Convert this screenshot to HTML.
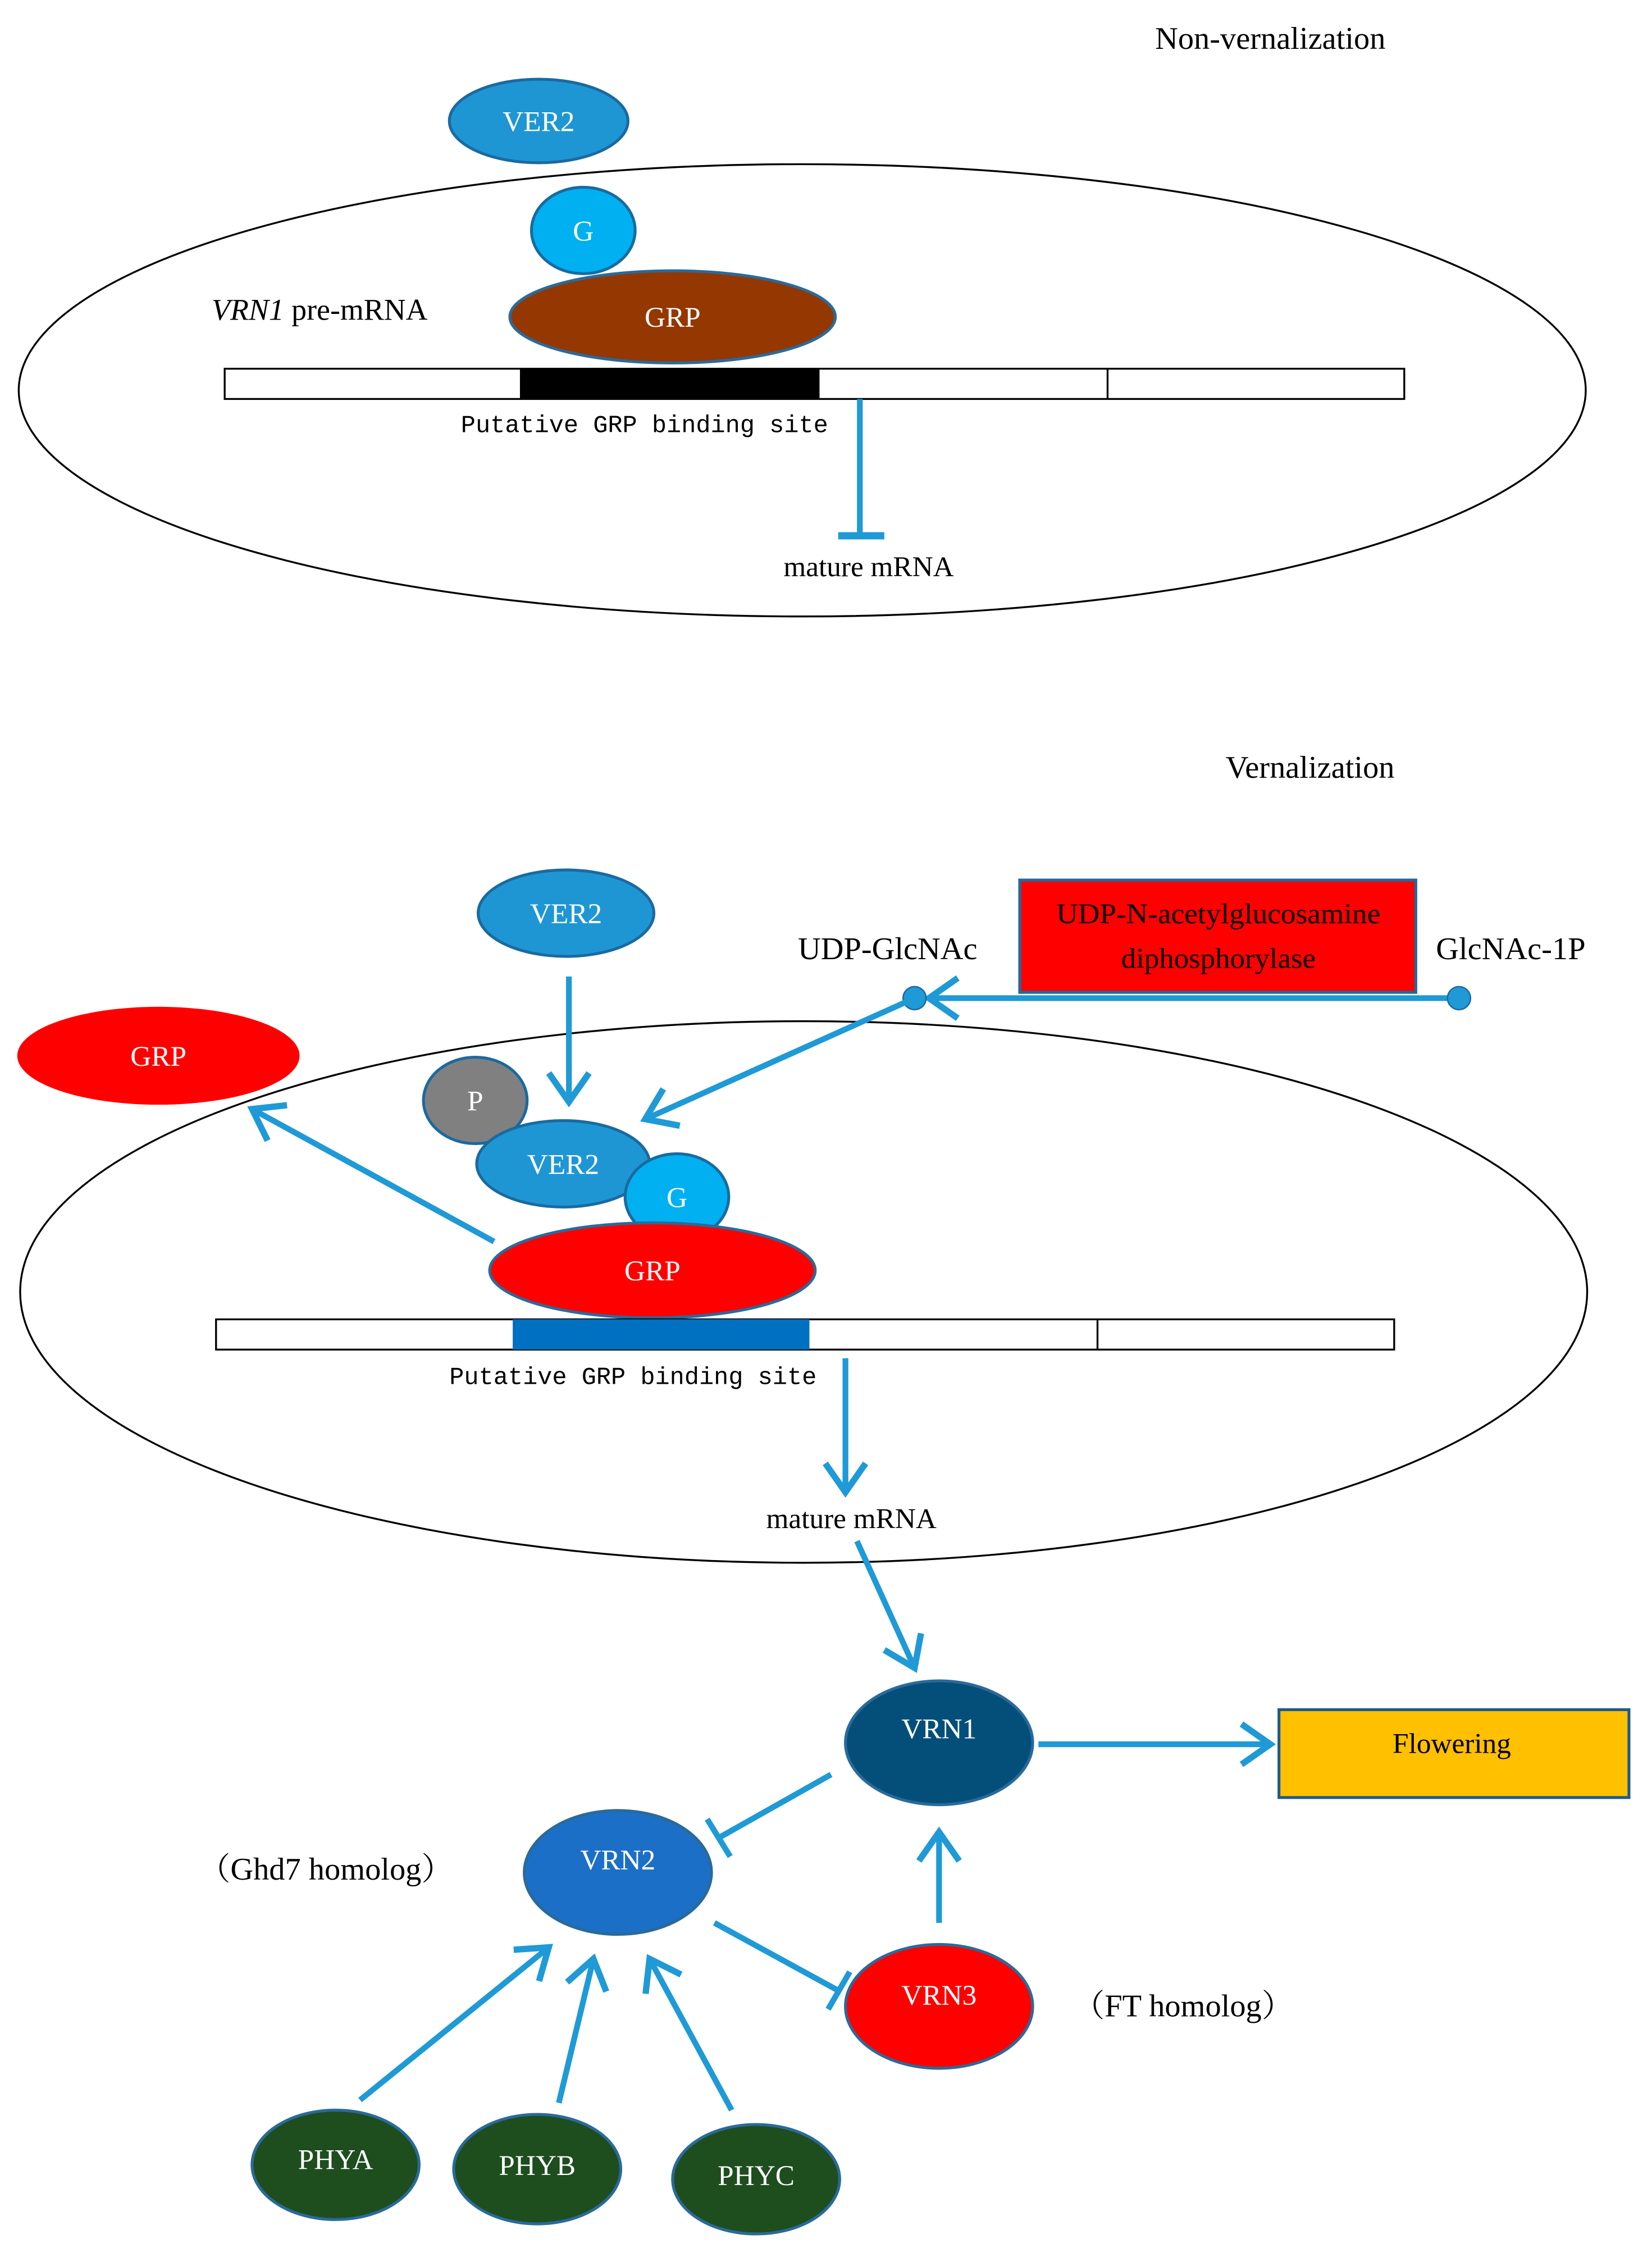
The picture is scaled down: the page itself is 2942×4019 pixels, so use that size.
<!DOCTYPE html>
<html><head><meta charset="utf-8"><style>html,body{margin:0;padding:0;background:#fff}svg{display:block}</style></head><body>
<svg width="2942" height="4019" viewBox="0 0 1147 1567" preserveAspectRatio="none" xmlns="http://www.w3.org/2000/svg" font-family="'Liberation Serif', serif">
<defs>
<marker id="ar" markerWidth="8" markerHeight="8" refX="6" refY="4" orient="auto" markerUnits="strokeWidth">
<polyline points="1,0.5 6,4 1,7.5" fill="none" stroke="#1f9ad6" stroke-width="1.1"/></marker>
</defs>
<rect width="1147" height="1567" fill="#fff"/>
<text x="802" y="34" font-size="22">Non-vernalization</text>
<ellipse cx="557" cy="271" rx="544" ry="157" fill="none" stroke="#000" stroke-width="1.3"/>
<ellipse cx="374" cy="84" rx="62" ry="29" fill="#1f96d4" stroke="#1a6aa0" stroke-width="2"/>
<text x="374" y="91" font-size="20" fill="#fff" text-anchor="middle">VER2</text>
<ellipse cx="405" cy="160" rx="36" ry="30" fill="#00b0f0" stroke="#1a6aa0" stroke-width="2"/>
<text x="405" y="167" font-size="20" fill="#fff" text-anchor="middle">G</text>
<ellipse cx="467" cy="220" rx="113" ry="32" fill="#943700" stroke="#2a6a9a" stroke-width="2"/>
<text x="467" y="227" font-size="20" fill="#fff" text-anchor="middle">GRP</text>
<text x="147" y="222" font-size="21"><tspan font-style="italic">VRN1</tspan> pre-mRNA</text>
<rect x="156" y="256" width="819" height="21" fill="#fff" stroke="#000" stroke-width="1.3"/>
<rect x="361" y="256" width="208" height="21" fill="#000"/>
<line x1="769" y1="256" x2="769" y2="277" stroke="#000" stroke-width="1.3"/>
<text x="320" y="300" font-size="17" font-family="'Liberation Mono', monospace">Putative GRP binding site</text>
<line x1="597" y1="277" x2="597" y2="372" stroke="#1f9ad6" stroke-width="4"/>
<line x1="582" y1="372" x2="614" y2="372" stroke="#1f9ad6" stroke-width="5"/>
<text x="544" y="400" font-size="20">mature mRNA</text>

<text x="851" y="540" font-size="22">Vernalization</text>
<ellipse cx="558" cy="897" rx="544" ry="188" fill="none" stroke="#000" stroke-width="1.3"/>
<ellipse cx="393" cy="634" rx="61" ry="30" fill="#1f96d4" stroke="#1a6aa0" stroke-width="2"/>
<text x="393" y="641" font-size="20" fill="#fff" text-anchor="middle">VER2</text>
<line x1="395" y1="678" x2="395" y2="765" stroke="#1f9ad6" stroke-width="4" marker-end="url(#ar)"/>
<rect x="708" y="611" width="275" height="78" fill="#ff0000" stroke="#1e6aa0" stroke-width="2"/>
<text x="846" y="641" font-size="20" text-anchor="middle" textLength="225" lengthAdjust="spacingAndGlyphs">UDP-N-acetylglucosamine</text>
<text x="846" y="672" font-size="20" text-anchor="middle" textLength="135" lengthAdjust="spacingAndGlyphs">diphosphorylase</text>
<text x="554" y="666" font-size="22">UDP-GlcNAc</text>
<text x="997" y="666" font-size="22">GlcNAc-1P</text>
<line x1="1013" y1="693" x2="645" y2="693" stroke="#1f9ad6" stroke-width="4" marker-end="url(#ar)"/>
<circle cx="1013" cy="693" r="8" fill="#1f9ad6" stroke="#1a6aa0"/>
<circle cx="635" cy="693" r="8" fill="#1f9ad6" stroke="#1a6aa0"/>
<line x1="635" y1="693" x2="448" y2="777" stroke="#1f9ad6" stroke-width="4" marker-end="url(#ar)"/>
<ellipse cx="110" cy="733" rx="98" ry="34" fill="#ff0000"/>
<text x="110" y="740" font-size="20" fill="#fff" text-anchor="middle">GRP</text>
<line x1="343" y1="862" x2="175" y2="770" stroke="#1f9ad6" stroke-width="4" marker-end="url(#ar)"/>
<ellipse cx="330" cy="764" rx="36" ry="30" fill="#808080" stroke="#1a6aa0" stroke-width="2"/>
<text x="330" y="771" font-size="20" fill="#fff" text-anchor="middle">P</text>
<ellipse cx="391" cy="808" rx="60" ry="30" fill="#1f96d4" stroke="#1a6aa0" stroke-width="2"/>
<text x="391" y="815" font-size="20" fill="#fff" text-anchor="middle">VER2</text>
<ellipse cx="470" cy="831" rx="36" ry="30" fill="#00b0f0" stroke="#1a6aa0" stroke-width="2"/>
<text x="470" y="838" font-size="20" fill="#fff" text-anchor="middle">G</text>
<ellipse cx="453" cy="882" rx="113" ry="33" fill="#ff0000" stroke="#2a6a9a" stroke-width="2"/>
<text x="453" y="889" font-size="20" fill="#fff" text-anchor="middle">GRP</text>
<rect x="150" y="916" width="818" height="21" fill="#fff" stroke="#000" stroke-width="1.3"/>
<rect x="356" y="916" width="206" height="21" fill="#0070c0"/>
<line x1="762" y1="916" x2="762" y2="937" stroke="#000" stroke-width="1.3"/>
<text x="312" y="961" font-size="17" font-family="'Liberation Mono', monospace">Putative GRP binding site</text>
<line x1="587" y1="943" x2="587" y2="1036" stroke="#1f9ad6" stroke-width="4" marker-end="url(#ar)"/>
<text x="532" y="1061" font-size="20">mature mRNA</text>
<line x1="595" y1="1070" x2="635" y2="1158" stroke="#1f9ad6" stroke-width="4" marker-end="url(#ar)"/>

<ellipse cx="652" cy="1210" rx="65" ry="43" fill="#034f7a" stroke="#2a6a9a" stroke-width="2"/>
<text x="652" y="1207" font-size="20" fill="#fff" text-anchor="middle">VRN1</text>
<line x1="721" y1="1211" x2="882" y2="1211" stroke="#1f9ad6" stroke-width="4" marker-end="url(#ar)"/>
<rect x="888" y="1187" width="243" height="61" fill="#ffc000" stroke="#1e5a8a" stroke-width="2"/>
<text x="1008" y="1217" font-size="20" text-anchor="middle">Flowering</text>
<line x1="577" y1="1232" x2="499" y2="1276" stroke="#1f9ad6" stroke-width="4"/>
<line x1="491" y1="1263" x2="507" y2="1289" stroke="#1f9ad6" stroke-width="4"/>
<ellipse cx="429" cy="1300" rx="65" ry="43" fill="#1c6fc6" stroke="#2a6a9a" stroke-width="2"/>
<text x="429" y="1298" font-size="20" fill="#fff" text-anchor="middle">VRN2</text>
<text x="138" y="1305" font-size="22" font-family="'Liberation Serif','Noto Serif CJK SC',serif">（Ghd7 homolog）</text>
<line x1="496" y1="1335" x2="582" y2="1382" stroke="#1f9ad6" stroke-width="4"/>
<line x1="590" y1="1369" x2="575" y2="1395" stroke="#1f9ad6" stroke-width="4"/>
<ellipse cx="652" cy="1393" rx="65" ry="43" fill="#ff0000" stroke="#2a6a9a" stroke-width="2"/>
<text x="652" y="1392" font-size="20" fill="#fff" text-anchor="middle">VRN3</text>
<line x1="652" y1="1335" x2="652" y2="1272" stroke="#1f9ad6" stroke-width="4" marker-end="url(#ar)"/>
<text x="745" y="1400" font-size="22" font-family="'Liberation Serif','Noto Serif CJK SC',serif">（FT homolog）</text>

<ellipse cx="233" cy="1503" rx="58" ry="38" fill="#1e4d1e" stroke="#2a6a9a" stroke-width="2"/>
<text x="233" y="1506" font-size="20" fill="#fff" text-anchor="middle">PHYA</text>
<ellipse cx="373" cy="1506" rx="58" ry="38" fill="#1e4d1e" stroke="#2a6a9a" stroke-width="2"/>
<text x="373" y="1510" font-size="20" fill="#fff" text-anchor="middle">PHYB</text>
<ellipse cx="525" cy="1513" rx="58" ry="38" fill="#1e4d1e" stroke="#2a6a9a" stroke-width="2"/>
<text x="525" y="1517" font-size="20" fill="#fff" text-anchor="middle">PHYC</text>
<line x1="250" y1="1458" x2="381" y2="1352" stroke="#1f9ad6" stroke-width="4" marker-end="url(#ar)"/>
<line x1="388" y1="1460" x2="412" y2="1360" stroke="#1f9ad6" stroke-width="4" marker-end="url(#ar)"/>
<line x1="508" y1="1465" x2="451" y2="1360" stroke="#1f9ad6" stroke-width="4" marker-end="url(#ar)"/>
</svg>
</body></html>
